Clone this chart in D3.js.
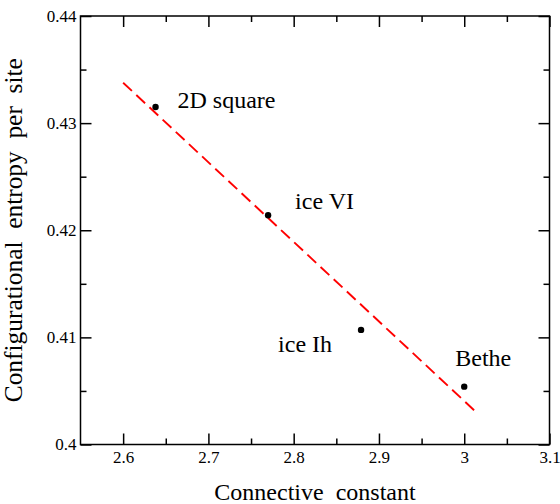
<!DOCTYPE html>
<html>
<head>
<meta charset="utf-8">
<script src="https://cdn.jsdelivr.net/npm/d3@7"></script>
<style>
  body { margin: 0; background: #fff; }
</style>
</head>
<body>
<div id="chart"></div>
<script>
// values
const labels = ['2D square', 'ice VI', 'ice Ih', 'Bethe']
const connective = [2.638, 2.770, 2.879, 3.0]
const entropy = [0.4315, 0.4214, 0.4107, 0.4054]
// dashed fit line end points
const fitX = [2.6, 3.0167]
const fitY = [0.43377, 0.40282]
// ticks
const xMajor = [2.6, 2.7, 2.8, 2.9, 3, 3.1]
const xMinor = [2.65, 2.75, 2.85, 2.95, 3.05]
const yMajor = [0.4, 0.41, 0.42, 0.43, 0.44]
const yMinor = [0.405, 0.415, 0.425, 0.435]

let width = 560
let height = 504
let pLeft = 80.5, pRight = 549.5, pTop = 16, pBottom = 444.5
let serif = 'Liberation Serif, DejaVu Serif, serif'

let xScale = d3.scaleLinear().domain([2.55, 3.1]).range([pLeft, pRight])
let yScale = d3.scaleLinear().domain([0.4, 0.44]).range([pBottom, pTop])

let svg = d3.select('#chart')
  .append('svg')
  .attr('width', width)
  .attr('height', height)
  .attr('font-family', serif)

// frame
svg.append('rect')
  .attr('x', pLeft).attr('y', pTop)
  .attr('width', pRight - pLeft).attr('height', pBottom - pTop)
  .attr('fill', 'none')
  .attr('stroke', '#000')
  .attr('stroke-width', 1.5)

function styleAxis(g) {
  g.attr('font-family', serif)
  g.select('.domain').remove()
  g.selectAll('line').attr('stroke', '#000').attr('stroke-width', 1.5)
  g.selectAll('text').attr('font-size', 17).attr('fill', '#000')
}

// bottom
svg.append('g')
  .attr('transform', 'translate(0,' + pBottom + ')')
  .call(d3.axisBottom(xScale).tickValues(xMajor).tickSize(-11).tickPadding(6).tickFormat(d3.format('')))
  .call(styleAxis)
svg.append('g')
  .attr('transform', 'translate(0,' + pBottom + ')')
  .call(d3.axisBottom(xScale).tickValues(xMinor).tickSize(-6).tickFormat(''))
  .call(styleAxis)
// top
svg.append('g')
  .attr('transform', 'translate(0,' + pTop + ')')
  .call(d3.axisTop(xScale).tickValues(xMajor).tickSize(-11).tickFormat(''))
  .call(styleAxis)
svg.append('g')
  .attr('transform', 'translate(0,' + pTop + ')')
  .call(d3.axisTop(xScale).tickValues(xMinor).tickSize(-6).tickFormat(''))
  .call(styleAxis)
// left
svg.append('g')
  .attr('transform', 'translate(' + pLeft + ',0)')
  .call(d3.axisLeft(yScale).tickValues(yMajor).tickSize(-11).tickPadding(4).tickFormat(d3.format('')))
  .call(styleAxis)
svg.append('g')
  .attr('transform', 'translate(' + pLeft + ',0)')
  .call(d3.axisLeft(yScale).tickValues(yMinor).tickSize(-6).tickFormat(''))
  .call(styleAxis)
// right
svg.append('g')
  .attr('transform', 'translate(' + pRight + ',0)')
  .call(d3.axisRight(yScale).tickValues(yMajor).tickSize(-11).tickFormat(''))
  .call(styleAxis)
svg.append('g')
  .attr('transform', 'translate(' + pRight + ',0)')
  .call(d3.axisRight(yScale).tickValues(yMinor).tickSize(-6).tickFormat(''))
  .call(styleAxis)

// fit line
let line = d3.line()
  .x(d => xScale(d[0]))
  .y(d => yScale(d[1]))
svg.append('path')
  .datum(d3.zip(fitX, fitY))
  .attr('d', line)
  .attr('fill', 'none')
  .attr('stroke', '#ff0000')
  .attr('stroke-width', 1.9)
  .attr('stroke-dasharray', '12,6')

// points
let points = d3.zip(connective, entropy, labels)
svg.selectAll('circle')
  .data(points)
  .enter()
  .append('circle')
  .attr('cx', d => xScale(d[0]))
  .attr('cy', d => yScale(d[1]))
  .attr('r', 3.2)
  .attr('fill', '#000')

// point labels
let offsets = [[22, 1, 'start'], [27, -6, 'start'], [-29, 22, 'end'], [-9, -21, 'start']]
svg.selectAll('.lbl')
  .data(points)
  .enter()
  .append('text')
  .attr('class', 'lbl')
  .attr('x', (d, i) => xScale(d[0]) + offsets[i][0])
  .attr('y', (d, i) => yScale(d[1]) + offsets[i][1])
  .attr('text-anchor', (d, i) => offsets[i][2])
  .attr('font-size', 24)
  .text(d => d[2])

// axis titles
svg.append('text')
  .attr('x', (pLeft + pRight) / 2)
  .attr('y', 500)
  .attr('text-anchor', 'middle')
  .attr('font-size', 24)
  .style('white-space', 'pre')
  .text('Connective  constant')

svg.append('text')
  .attr('transform', 'translate(22,' + (pTop + pBottom) / 2 + ') rotate(-90)')
  .attr('text-anchor', 'middle')
  .attr('font-size', 25.4)
  .style('white-space', 'pre')
  .text('Configurational  entropy  per  site')
</script>
</body>
</html>
